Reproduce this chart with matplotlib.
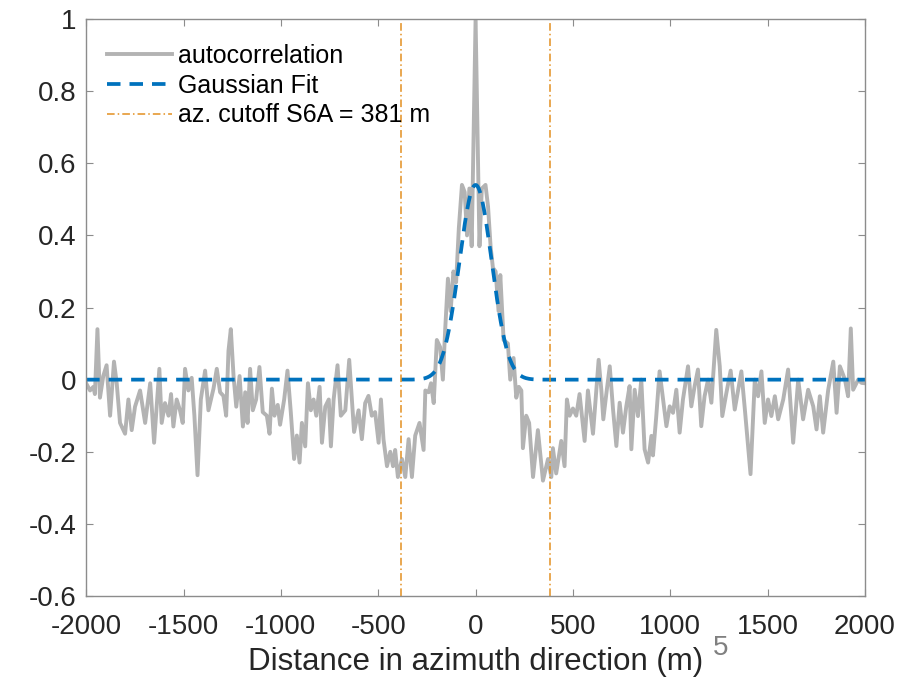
"""Azimuth autocorrelation with Gaussian fit and cutoff lines."""

import matplotlib
matplotlib.use("Agg")
import matplotlib.pyplot as plt
import numpy as np

plt.rcParams["font.family"] = ["Liberation Sans", "DejaVu Sans"]

# autocorrelation profile (m, normalised)
dist = [
    -2000, -1980, -1963, -1955, -1942, -1929, -1912, -1895, -1877, -1857,
    -1843, -1826, -1800, -1783, -1766, -1749, -1723, -1697, -1671, -1651,
    -1624, -1612, -1595, -1577, -1564, -1552, -1535, -1518, -1504, -1492,
    -1475, -1458, -1444, -1428, -1411, -1389, -1372, -1346, -1329, -1312,
    -1295, -1281, -1269, -1257, -1243, -1229, -1212, -1195, -1183, -1171,
    -1158, -1144, -1127, -1110, -1093, -1072, -1058, -1046, -1033, -1016,
    -1004, -983, -966, -949, -932, -918, -904, -892, -875, -861,
    -846, -832, -818, -801, -789, -772, -754, -743, -729, -709,
    -692, -669, -649, -624, -601, -584, -567, -550, -533, -516,
    -498, -486, -473, -455, -438, -424, -413, -399, -378, -361,
    -344, -327, -310, -288, -267, -258, -241, -229, -215, -199,
    -182, -168, -156, -142, -128, -114, -100, -86, -70, -56,
    -44, -32, -20, 0, 20, 32, 51, 64, 77, 89,
    103, 118, 127, 144, 166, 178, 195, 209, 222, 235,
    243, 260, 275, 295, 320, 346, 372, 389, 397, 414,
    440, 457, 469, 483, 500, 517, 534, 560, 577, 603,
    632, 646, 656, 672, 689, 706, 723, 740, 757, 774,
    791, 800, 817, 834, 851, 868, 886, 903, 911, 928,
    945, 963, 980, 997, 1014, 1031, 1048, 1065, 1091, 1108,
    1125, 1142, 1159, 1176, 1194, 1211, 1236, 1254, 1267, 1288,
    1310, 1331, 1365, 1383, 1412, 1434, 1451, 1468, 1485, 1502,
    1519, 1537, 1554, 1580, 1605, 1631, 1657, 1682, 1708, 1734,
    1751, 1768, 1785, 1811, 1837, 1854, 1871, 1897, 1913, 1927,
    1939, 1965, 1982, 2000,
]
acf = [
    -0.01, -0.03, -0.02, -0.04, 0.14, -0.05, 0.01, 0.04, -0.10, 0.05,
    -0.01, -0.12, -0.15, -0.055, -0.14, -0.075, -0.03, -0.12, -0.01, -0.175,
    0.03, -0.12, -0.065, -0.10, -0.04, -0.13, -0.055, -0.085, -0.12, 0.03,
    -0.03, 0.005, -0.10, -0.265, -0.055, 0.025, -0.085, -0.025, 0.03, -0.035,
    -0.045, -0.10, 0.08, 0.14, 0.01, -0.075, 0.01, -0.13, -0.035, -0.12,
    0.03, -0.085, -0.055, 0.035, -0.09, -0.10, -0.15, -0.025, -0.10, -0.07,
    -0.125, -0.055, 0.025, -0.09, -0.22, -0.155, -0.23, -0.12, -0.185, -0.01,
    -0.085, -0.055, -0.10, -0.02, -0.175, -0.075, -0.055, -0.185, -0.055, 0.04,
    -0.10, -0.085, 0.055, -0.145, -0.085, -0.165, -0.065, -0.045, -0.10, -0.09,
    -0.175, -0.055, -0.165, -0.24, -0.20, -0.24, -0.195, -0.27, -0.22, -0.27,
    -0.165, -0.27, -0.155, -0.12, -0.195, -0.03, -0.035, -0.01, -0.065, 0.11,
    0.09, 0.0, 0.14, 0.28, 0.19, 0.30, 0.27, 0.42, 0.54, 0.52,
    0.40, 0.53, 0.37, 1.0, 0.37, 0.53, 0.54, 0.48, 0.37, 0.31,
    0.30, 0.19, 0.29, 0.11, 0.10, 0.0, 0.06, -0.05, -0.02, -0.03,
    -0.19, -0.10, -0.12, -0.27, -0.14, -0.28, -0.22, -0.27, -0.19, -0.26,
    -0.17, -0.24, -0.055, -0.10, -0.08, -0.10, -0.04, -0.17, -0.03, -0.15,
    0.055, -0.03, -0.11, -0.037, 0.037, -0.083, -0.184, -0.064, -0.147, -0.074,
    -0.018, -0.193, -0.028, -0.101, 0.0, -0.193, -0.23, -0.156, -0.21, -0.101,
    0.023, -0.055, -0.129, -0.074, -0.092, -0.028, -0.147, -0.055, 0.037, -0.074,
    -0.018, 0.028, -0.129, -0.046, 0.0, -0.064, 0.138, 0.037, -0.101, -0.037,
    0.025, -0.083, 0.023, -0.083, -0.262, 0.0, -0.046, 0.023, -0.12, -0.055,
    -0.101, -0.046, -0.11, -0.055, 0.028, -0.175, 0.0, -0.11, -0.028, -0.074,
    -0.138, -0.046, -0.147, -0.028, 0.05, -0.092, 0.037, 0.0, -0.046, 0.142,
    -0.028, 0.0, -0.009, -0.01,
]

# Gaussian fit parameters
fit_amp = 0.54
fit_sigma = 83.0  # m
cutoff = 381  # m

legend_labels = ["autocorrelation", "Gaussian Fit", f"az. cutoff S6A = {cutoff} m"]
ytick_labels = ["-0.6", "-0.4", "-0.2", "0", "0.2", "0.4", "0.6", "0.8", "1"]

x_fit = np.linspace(-2000, 2000, 801)
y_fit = fit_amp * np.exp(-(x_fit**2) / (2 * fit_sigma**2))

fig = plt.figure(figsize=(9.02, 6.79), dpi=100)
ax = fig.add_axes([0.0955, 0.1222, 0.8635, 0.8498])

ax.plot(dist, acf, color="#b3b3b3", lw=2.8, label=legend_labels[0])
ax.plot(x_fit, y_fit, color="#0072bd", lw=2.7, dashes=(3.6, 2.4),
        label=legend_labels[1])
ax.axvline(-cutoff, color="#e39020", lw=1.1, dashes=(5, 2, 1, 2),
           label=legend_labels[2])
ax.axvline(cutoff, color="#e39020", lw=1.1, dashes=(5, 2, 1, 2))

ax.set_xlim(-2000, 2000)
ax.set_ylim(-0.6, 1)
ax.set_xticks(np.arange(-2000, 2001, 500))
ax.set_yticks(np.arange(-0.6, 1.01, 0.2))
ax.set_yticklabels(ytick_labels)
ax.set_xticklabels([str(v) for v in range(-2000, 2001, 500)])

for s in ax.spines.values():
    s.set_color("#8c8c8c")
    s.set_linewidth(1.0)
ax.tick_params(direction="in", length=5, width=0.8, color="#8c8c8c",
               labelsize=20, labelcolor="#262626", top=True, right=True)
ax.tick_params(axis="x", pad=13)
ax.tick_params(axis="y", pad=7)

ax.set_xlabel("Distance in azimuth direction (m)", fontsize=22.5,
              color="#262626", labelpad=5)

ax.legend(loc="upper left", bbox_to_anchor=(0.027, 0.957), frameon=False,
          fontsize=18, handlelength=2.6, handletextpad=0.24,
          labelspacing=0.23, borderpad=0, borderaxespad=0)

fig.text(0.790, 0.0353, "5", fontsize=20, color="#808080")

plt.savefig("out.png", dpi=100)
